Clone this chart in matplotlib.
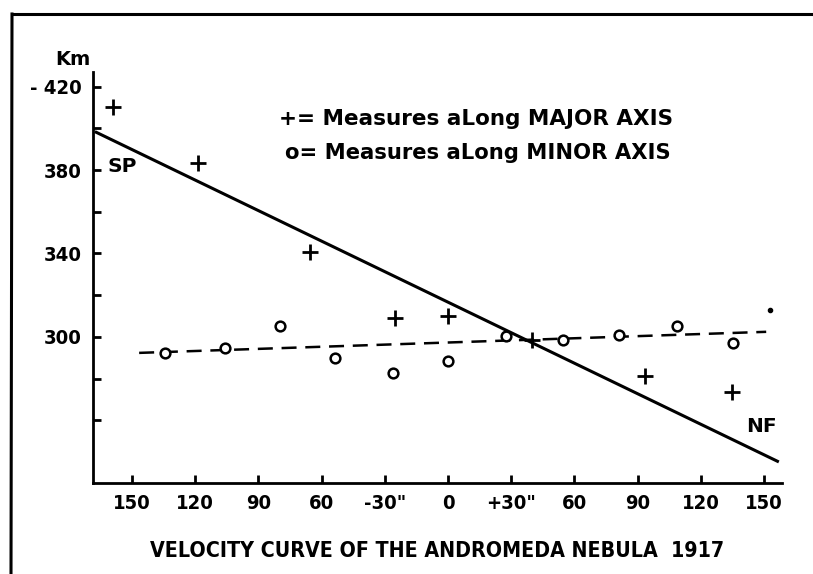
import matplotlib
matplotlib.use("Agg")
import matplotlib.pyplot as plt
from matplotlib.lines import Line2D

# distance from nucleus (seconds of arc) and radial velocity (km)
major_x = [-159, -118.6, -65.5, -25.2, 0, 39.9, 93.5, 135]
major_v = [410, 383.5, 340.8, 309, 310, 298.6, 281.3, 273.6]

minor_x = [-134.3, -105.8, -79.7, -53.6, -26, 0, 27.5, 54.6, 81.2, 108.7, 135.3]
minor_v = [292.3, 294.7, 305.3, 290, 282.7, 288.6, 300.5, 298.6, 301, 305.3, 297]

# fitted lines (end points)
major_fit_x = [-167.6, 157]
major_fit_v = [398.4, 240]
minor_fit_x = [-146.6, 151]
minor_fit_v = [292.3, 302.4]

speck_x = [153]
speck_v = [313]

xticks = [-150, -120, -90, -60, -30, 0, 30, 60, 90, 120, 150]
xticklabels = ['150', '120', '90', '60', '-30"', '0', '+30"', '60', '90', '120', '150']
yticks = [260, 280, 300, 320, 340, 360, 380, 400, 420]
yticklabels = ['', '', '300', '', '340', '', '380', '', '- 420']

W, H = 813, 574
fig = plt.figure(figsize=(W / 100, H / 100), dpi=100)
ax = fig.add_axes([93 / W, 1 - 483 / H, (782 - 93) / W, (483 - 72) / H])

ax.plot(major_fit_x, major_fit_v, color='black', lw=2.2, solid_capstyle='butt')
ax.plot(minor_fit_x, minor_fit_v, color='black', lw=1.8, dashes=(6, 3.5))
ax.plot(major_x, major_v, ls='none', marker='+', ms=12, mew=2, color='black')
ax.plot(minor_x, minor_v, ls='none', marker='o', ms=7, mew=1.8,
        mfc='white', mec='black')
ax.plot(speck_x, speck_v, ls='none', marker='o', ms=3, color='black')

ax.set_xlim(-168.5, 158.5)
ax.set_ylim(229.9, 427)
for s in ['top', 'right']:
    ax.spines[s].set_visible(False)
for s in ['left', 'bottom']:
    ax.spines[s].set_linewidth(2)

ax.set_xticks(xticks)
ax.set_xticklabels(xticklabels)
ax.set_yticks(yticks)
ax.set_yticklabels(yticklabels)
ax.tick_params(direction='in', length=6, width=2, labelsize=14.5, pad=8)
for lab in ax.get_xticklabels() + ax.get_yticklabels():
    lab.set_fontweight('bold')
    lab.set_fontstretch('condensed')

ax.text(-161.8, 381.5, 'SP', fontsize=14.5, fontweight='bold', va='center')
ax.text(141.5, 257, 'NF', fontsize=14.5, fontweight='bold', va='center')
ax.text(-178, 433, 'Km', fontsize=14, fontweight='bold', ha='center',
        va='center', clip_on=False)

ax.text(-80, 404.7, '+= Measures aLong MAJOR AXIS', fontsize=15.5,
        fontweight='bold', va='center')
ax.text(-77.5, 388, 'o= Measures aLong MINOR AXIS', fontsize=15.2,
        fontweight='bold', va='center')

fig.text(150 / W, 1 - 551 / H, 'VELOCITY CURVE OF THE ANDROMEDA NEBULA  1917',
         fontsize=15.3, fontweight='bold', fontstretch='condensed',
         va='center', ha='left')

# border of the scanned plate
fig.add_artist(Line2D([12 / W, 1], [1 - 14 / H, 1 - 14 / H], color='black', lw=2.2))
fig.add_artist(Line2D([12 / W, 11 / W], [1 - 14 / H, 0], color='black', lw=2.2))

fig.savefig('out.png', dpi=100, facecolor='white')
